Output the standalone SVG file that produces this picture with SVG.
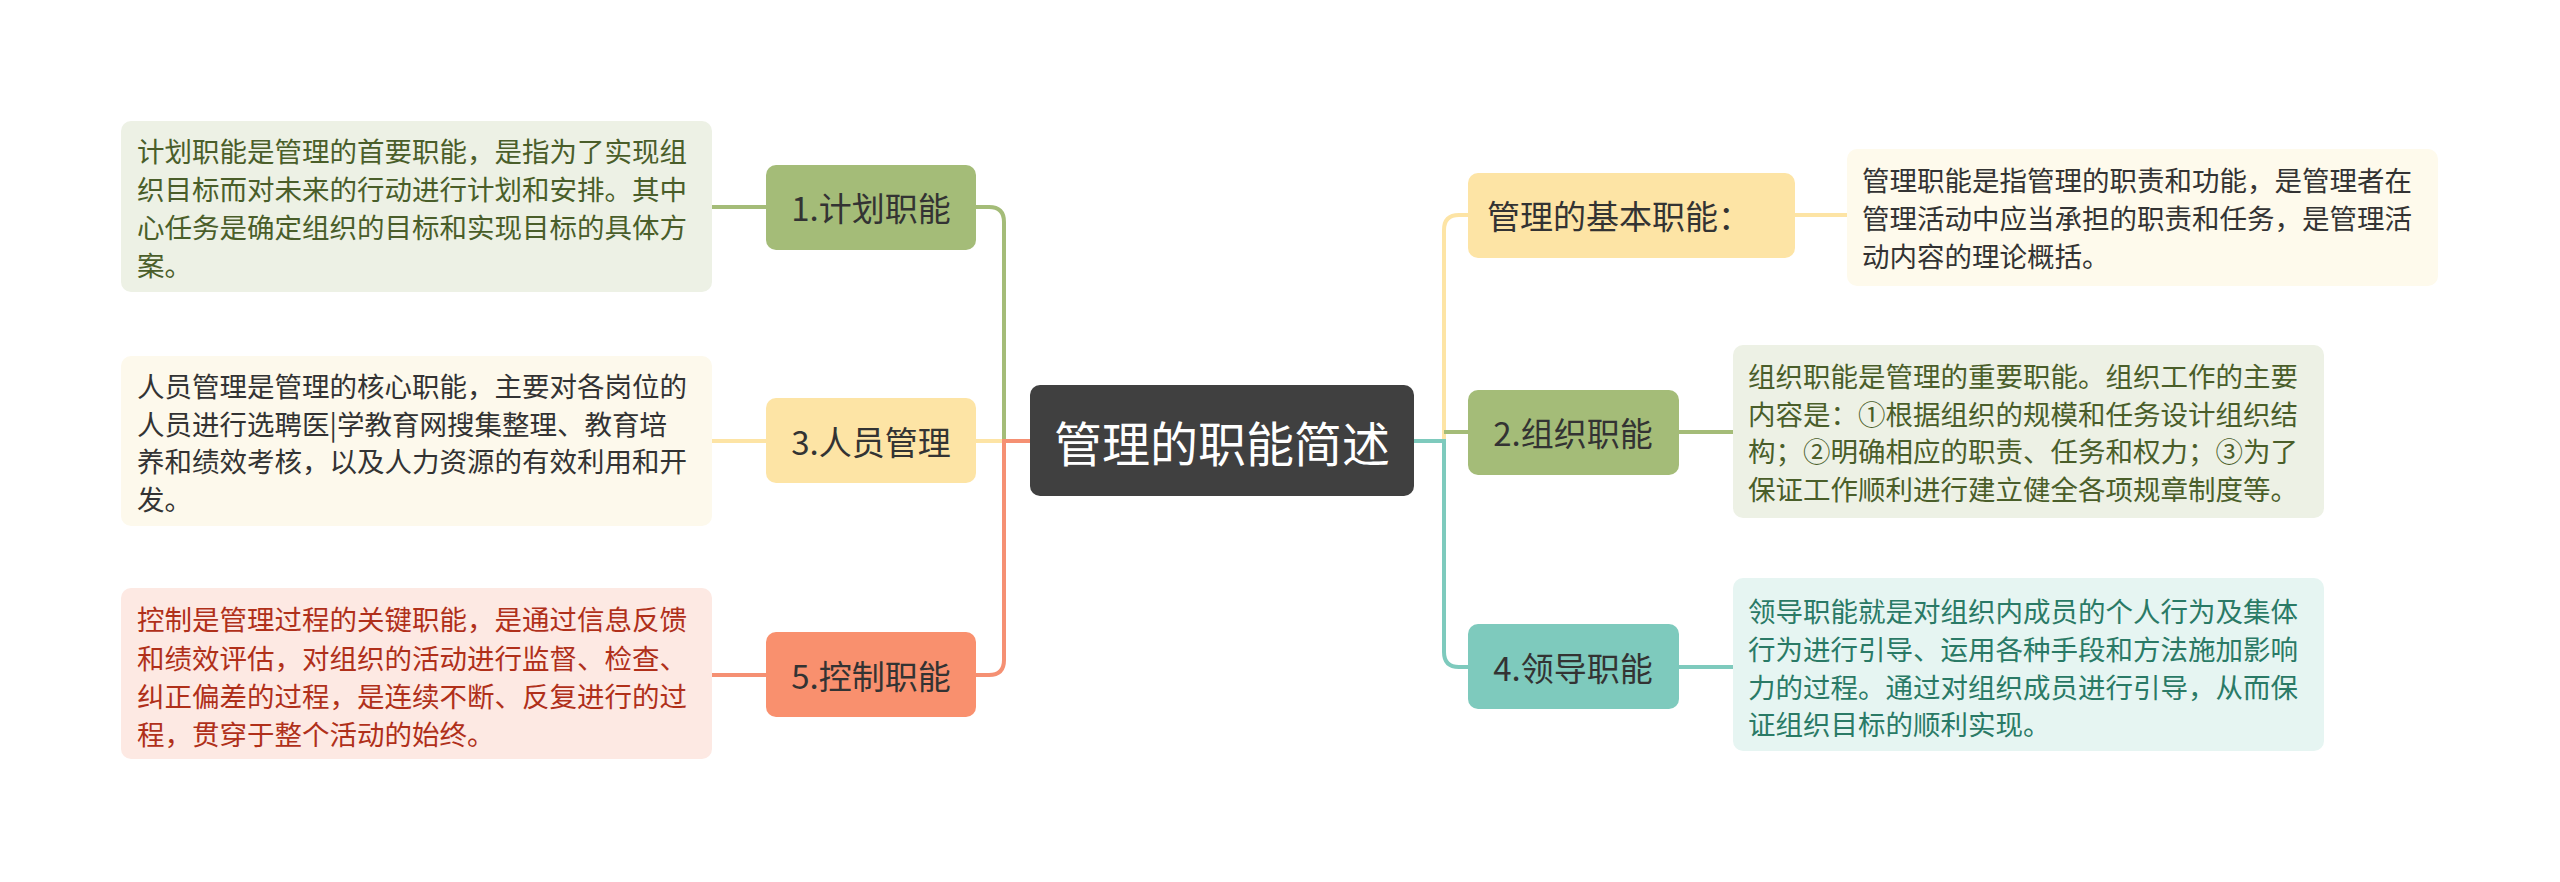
<svg xmlns="http://www.w3.org/2000/svg" width="2560" height="882" viewBox="0 0 2560 882">
<style>
text{font-family:"Microsoft YaHei","Noto Sans CJK SC",sans-serif}
.t{font-size:33px;fill:#333;dominant-baseline:central}
.d{font-size:27.5px}
.c{fill:none;stroke-width:4}
</style>
<rect width="2560" height="882" fill="#fff"/>
<g id="connectors">
<path class="c" stroke="#a4bc78" d="M1030 441 H1004 V222 Q1004 207 989 207 H976"/>
<path class="c" stroke="#fde4a5" d="M1030 441 H976"/>
<path class="c" stroke="#f59073" d="M1030 441 H1004 V660 Q1004 675 989 675 H976"/>
<path class="c" stroke="#a4bc78" d="M766 207 H712"/>
<path class="c" stroke="#fde4a5" d="M766 441 H712"/>
<path class="c" stroke="#f59073" d="M766 675 H712"/>
<path class="c" stroke="#fde4a5" d="M1414 441 H1444 V230 Q1444 215 1459 215 H1468"/>
<path class="c" stroke="#a4bc78" d="M1444 432 H1468"/>
<path class="c" stroke="#7ecabd" d="M1414 441 H1444 V652 Q1444 667 1459 667 H1468"/>
<path class="c" stroke="#fde4a5" d="M1795 215 H1847"/>
<path class="c" stroke="#a4bc78" d="M1679 432 H1733"/>
<path class="c" stroke="#7ecabd" d="M1679 667 H1733"/>
</g>
<g id="center"><rect x="1030" y="385" width="384" height="111" rx="10" fill="#404040"/><text x="1222" y="441" text-anchor="middle" style="font-size:48px;fill:#fff;dominant-baseline:central">管理的职能简述</text></g>
<g id="n1"><rect x="766" y="165" width="210" height="85" rx="10" fill="#a4bc78"/><text class="t" x="871" y="207" text-anchor="middle">1.计划职能</text></g>
<g id="n3"><rect x="766" y="398" width="210" height="85" rx="10" fill="#fde4a5"/><text class="t" x="871" y="441" text-anchor="middle">3.人员管理</text></g>
<g id="n5"><rect x="766" y="632" width="210" height="85" rx="10" fill="#f9906e"/><text class="t" x="871" y="675" text-anchor="middle">5.控制职能</text></g>
<g id="n0"><rect x="1468" y="173" width="327" height="85" rx="10" fill="#fde4a5"/><text class="t" x="1487" y="215">管理的基本职能：</text></g>
<g id="n2"><rect x="1468" y="390" width="211" height="85" rx="10" fill="#a4bc78"/><text class="t" x="1573" y="432" text-anchor="middle">2.组织职能</text></g>
<g id="n4"><rect x="1468" y="624" width="211" height="85" rx="10" fill="#7ecabd"/><text class="t" x="1573" y="667" text-anchor="middle">4.领导职能</text></g>
<g id="d1"><rect x="121" y="121" width="591" height="171" rx="10" fill="#edf1e5"/><text class="d" fill="#4a5e2a"><tspan x="137" y="162">计划职能是管理的首要职能，是指为了实现组</tspan><tspan x="137" y="200">织目标而对未来的行动进行计划和安排。其中</tspan><tspan x="137" y="238">心任务是确定组织的目标和实现目标的具体方</tspan><tspan x="137" y="276">案。</tspan></text></g>
<g id="d3"><rect x="121" y="356" width="591" height="170" rx="10" fill="#fdf9ec"/><text class="d" fill="#333"><tspan x="137" y="397">人员管理是管理的核心职能，主要对各岗位的</tspan><tspan x="137" y="435">人员进行选聘医|学教育网搜集整理、教育培</tspan><tspan x="137" y="472">养和绩效考核，以及人力资源的有效利用和开</tspan><tspan x="137" y="510">发。</tspan></text></g>
<g id="d5"><rect x="121" y="588" width="591" height="171" rx="10" fill="#fde9e3"/><text class="d" fill="#b0301a"><tspan x="137" y="630">控制是管理过程的关键职能，是通过信息反馈</tspan><tspan x="137" y="669">和绩效评估，对组织的活动进行监督、检查、</tspan><tspan x="137" y="707">纠正偏差的过程，是连续不断、反复进行的过</tspan><tspan x="137" y="745">程，贯穿于整个活动的始终。</tspan></text></g>
<g id="d0"><rect x="1847" y="149" width="591" height="137" rx="10" fill="#fefaec"/><text class="d" fill="#333"><tspan x="1862" y="191">管理职能是指管理的职责和功能，是管理者在</tspan><tspan x="1862" y="229">管理活动中应当承担的职责和任务，是管理活</tspan><tspan x="1862" y="267">动内容的理论概括。</tspan></text></g>
<g id="d2"><rect x="1733" y="345" width="591" height="173" rx="10" fill="#edf1e5"/><text class="d" fill="#4a5e2a"><tspan x="1748" y="387">组织职能是管理的重要职能。组织工作的主要</tspan><tspan x="1748" y="425">内容是：①根据组织的规模和任务设计组织结</tspan><tspan x="1748" y="462">构；②明确相应的职责、任务和权力；③为了</tspan><tspan x="1748" y="500">保证工作顺利进行建立健全各项规章制度等。</tspan></text></g>
<g id="d4"><rect x="1733" y="578" width="591" height="173" rx="10" fill="#e6f5f2"/><text class="d" fill="#2a7a66"><tspan x="1748" y="622">领导职能就是对组织内成员的个人行为及集体</tspan><tspan x="1748" y="660">行为进行引导、运用各种手段和方法施加影响</tspan><tspan x="1748" y="698">力的过程。通过对组织成员进行引导，从而保</tspan><tspan x="1748" y="735">证组织目标的顺利实现。</tspan></text></g>
</svg>
